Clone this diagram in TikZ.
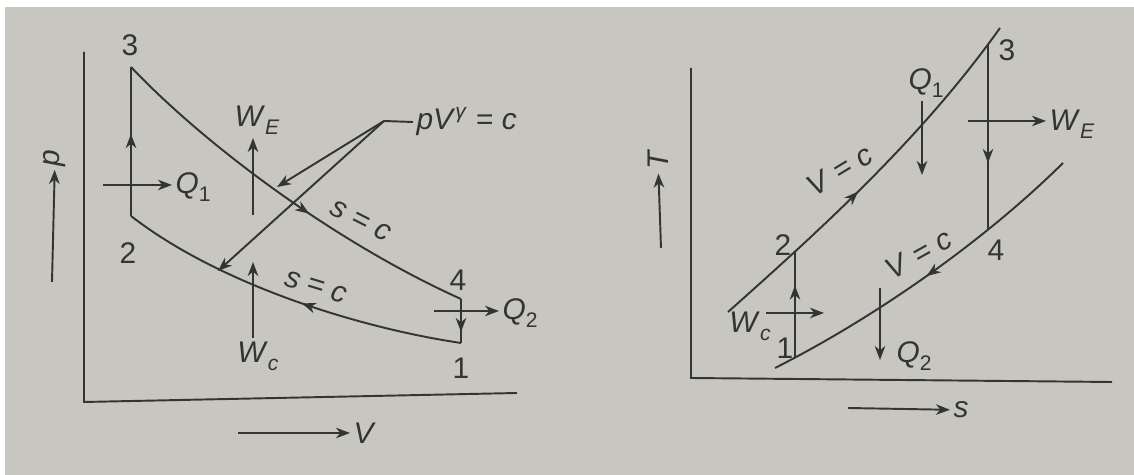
\documentclass[tikz,border=0pt]{standalone}
\usepackage{fontspec}
\setmainfont{Liberation Sans}
\usepackage{xcolor}
\usetikzlibrary{arrows.meta, decorations.markings, intersections}
\definecolor{paper}{RGB}{199,198,193}
\definecolor{ink}{RGB}{52,52,50}
\newcommand{\lbl}[2]{\textit{#1}\raisebox{-0.5ex}{\fontsize{12}{12}\selectfont #2}}

\begin{document}
\begin{tikzpicture}[x=0.02cm, y=-0.02cm, line width=1.1pt, color=ink,
  font=\fontsize{17}{20}\selectfont,
  >={Stealth[length=8pt, width=6pt, inset=2.5pt]},
  flow/.style={postaction={decorate}, decoration={markings, mark=at position #1 with {\arrow{>}}}},
  lab/.style={inner sep=1.5pt}]
  \fill[white] (0,0) rectangle (1134,475);
  \fill[paper] (5,7) rectangle (1134,475);
  \useasboundingbox (0,0) rectangle (1134,475);

  \coordinate (ptop) at (84,52);
  \coordinate (o1) at (84,402);
  \coordinate (vend) at (517,393);
  \draw (ptop) -- (o1) -- (vend);

  \coordinate (c3) at (131,67);
  \coordinate (c2) at (131,216);
  \coordinate (c4) at (461,299);
  \coordinate (c1) at (461,343);
  \draw[flow=0.55] (c2) -- (c3);
  \draw[flow=0.57] (c3) .. controls (200,140) and (330,240) .. (c4);
  \draw[flow=0.75] (c4) -- (c1);
  \draw[flow=0.46] (c1) .. controls (360,328) and (220,285) .. (c2);

  \node[lab] (n3) at (130,45) {3};
  \node[lab] (n2) at (128,253) {2};
  \node[lab] (n4) at (458,280) {4};
  \node[lab] (n1) at (461,368) {1};

  \coordinate (q1a) at (103,185);
  \node[lab, anchor=west] (Q1) at (172,187) {\lbl{Q}{1}};
  \draw[->] (q1a) -- (Q1.west |- q1a);

  \coordinate (we0) at (253,215);
  \node[lab, anchor=south] (WE) at (257,138) {\lbl{W}{\textit{E}}};
  \draw[->] (we0) -- (we0 |- WE.south);

  \coordinate (wc1) at (253,262);
  \node[lab, anchor=north] (Wc) at (258,338) {\lbl{W}{\textit{c}}};
  \draw[->] (Wc.north -| wc1) -- (wc1);

  \coordinate (q2a) at (434,311);
  \node[lab, anchor=west] (Q2) at (499,313) {\lbl{Q}{2}};
  \draw[->] (q2a) -- (Q2.west |- q2a);

  \node[lab, anchor=west] (pv) at (413,122) {\textit{pV}\textsuperscript{\textit{γ}} = \textit{c}};
  \coordinate (kn) at (384,121);
  \coordinate (pa) at (277,187);
  \coordinate (pb) at (218,271);
  \draw (pv.west) -- (kn);
  \draw[->] (kn) -- (pa);
  \draw[->] (kn) -- (pb);

  \node[lab, rotate=-27] (sc1) at (361,221) {\textit{s} = \textit{c}};
  \node[lab, rotate=-17] (sc2) at (316,287) {\textit{s} = \textit{c}};

  \coordinate (pa0) at (52,282);
  \node[lab, rotate=90] (P) at (55,158) {\textit{p}};
  \draw[->] (pa0) -- (P);

  \coordinate (va0) at (238,433);
  \node[lab, anchor=west] (V) at (350,433) {\textit{V}};
  \draw[->] (va0) -- (V);

  \coordinate (ttop) at (691,68);
  \coordinate (o2) at (691,378);
  \coordinate (send) at (1112,382);
  \draw (ttop) -- (o2) -- (send);

  \draw[name path=hi, flow=0.45] (728,312) .. controls (820,230) and (920,140) .. (1000,28);
  \draw[name path=lo, flow=0.5] (1063,163) .. controls (980,245) and (870,320) .. (775,368);
  \path[name path=v12] (795,0) -- (795,475);
  \path[name path=v34] (988,0) -- (988,475);
  \path[name intersections={of=hi and v12, by=r2}];
  \path[name intersections={of=lo and v12, by=r1}];
  \path[name intersections={of=hi and v34, by=r3}];
  \path[name intersections={of=lo and v34, by=r4}];
  \draw[flow=0.68] (r1) -- (r2);
  \draw[flow=0.64] (r3) -- (r4);

  \node[lab] (m2) at (783,245) {2};
  \node[lab] (m1) at (785,348) {1};
  \node[lab] (m3) at (1007,50) {3};
  \node[lab] (m4) at (996,250) {4};

  \node[lab, rotate=31] (vc1) at (840,170) {\textit{V} = \textit{c}};
  \node[lab, rotate=29] (vc2) at (919,254) {\textit{V} = \textit{c}};

  \coordinate (rq1) at (922,175);
  \node[lab, anchor=south] (RQ1) at (926,101) {\lbl{Q}{1}};
  \draw[->] (RQ1.south -| rq1) -- (rq1);

  \coordinate (rwe) at (968,121);
  \node[lab, anchor=west] (RWE) at (1046,124) {\lbl{W}{\textit{E}}};
  \draw[->] (rwe) -- (RWE.west |- rwe);

  \coordinate (rwc0) at (766,313);
  \coordinate (rwc1) at (824,313);
  \node[lab] (RWc) at (750,326) {\lbl{W}{\textit{c}}};
  \draw[->] (rwc0) -- (rwc1);

  \coordinate (rq2a) at (880,288);
  \coordinate (rq2b) at (880,360);
  \node[lab, anchor=west] (RQ2) at (893,356) {\lbl{Q}{2}};
  \draw[->] (rq2a) -- (rq2b);

  \coordinate (ta0) at (661,248);
  \node[lab, rotate=90] (T) at (658,160) {\textit{T}};
  \draw[->] (ta0) -- (T);

  \coordinate (sa0) at (848,408);
  \node[lab, anchor=west] (S) at (950,410) {\textit{s}};
  \draw[->] (sa0) -- (S);
\end{tikzpicture}
\end{document}
